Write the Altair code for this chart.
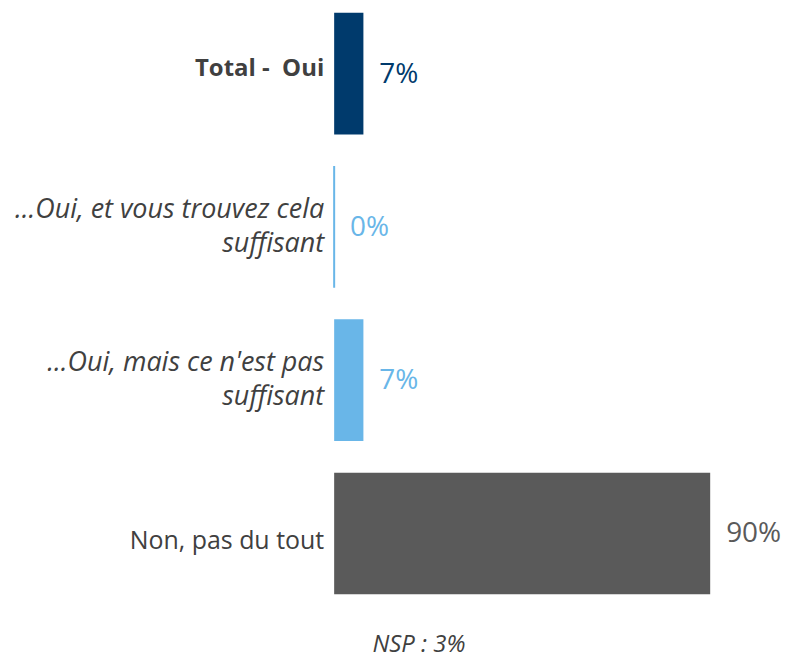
import altair as alt
import pandas as pd

categories = ["Total -\u00a0 Oui",
              "...Oui, et vous trouvez cela\nsuffisant",
              "...Oui, mais ce n'est pas\nsuffisant",
              "Non, pas du tout"]
values = [7, 0, 7, 90]
bar_colors = ["#003A6C", "#69B6E8", "#69B6E8", "#5A5A5A"]
value_colors = ["#0E3A66", "#69B6E8", "#69B6E8", "#000000"]
label_styles = ["bold", "italic", "italic", "normal"]
footnote = ["NSP : 3%"]

df = pd.DataFrame({
    "cat": categories,
    "value": values,
    "valtxt": [f"{v}%" for v in values],
    "style": label_styles,
})

FONT = "Open Sans"
W, H = 377, 591

y = alt.Y("cat:N", sort=categories, axis=None,
          scale=alt.Scale(paddingInner=0.206, paddingOuter=0.026))
x = alt.X("value:Q", axis=None, scale=alt.Scale(domain=[0, 90], nice=False, zero=True))

base = alt.Chart(df)

bars = base.mark_bar().encode(
    x=x, y=y,
    color=alt.Color("cat:N", scale=alt.Scale(domain=categories, range=bar_colors), legend=None),
    stroke=alt.Color("cat:N", scale=alt.Scale(domain=categories, range=bar_colors), legend=None),
    strokeWidth=alt.condition("datum.value == 0", alt.value(2), alt.value(0)),
)

vals = base.mark_text(align="left", baseline="middle", dx=16, dy=1, font=FONT, fontSize=28).encode(
    x=x, y=y, text="valtxt:N",
    color=alt.Color("cat:N", scale=alt.Scale(domain=categories, range=value_colors), legend=None),
)

def label_layer(style):
    kw = dict(align="right", baseline="middle", font=FONT, fontSize=25,
              lineBreak="\n", lineHeight=34, color="#404040")
    if style == "bold":
        kw["fontWeight"] = "bold"
        kw["fontSize"] = 24
        kw["dy"] = -5
    elif style == "italic":
        kw["fontStyle"] = "italic"
        kw["fontSize"] = 27
        kw["dy"] = -17
    else:
        kw["dy"] = 8
    return base.transform_filter(alt.datum.style == style).mark_text(**kw).encode(
        x=alt.value(-10), y=y, text="cat:N")

labels = [label_layer(s) for s in ["bold", "italic", "normal"]]

foot = alt.Chart(pd.DataFrame({"t": footnote})).mark_text(
    align="center", baseline="alphabetic", font=FONT, fontSize=24,
    fontStyle="italic", color="#404040"
).encode(x=alt.value(85), y=alt.value(H + 54), text="t:N")

chart = alt.layer(bars, vals, *labels, foot).properties(
    width=W, height=H,
    padding={"left": 327, "top": 0, "right": 74, "bottom": 60},
    autosize=alt.AutoSizeParams(type="none"),
    background="white",
).configure_view(stroke=None, strokeWidth=0)

chart.save("out.html", embed_options={"renderer": "svg", "actions": False})
